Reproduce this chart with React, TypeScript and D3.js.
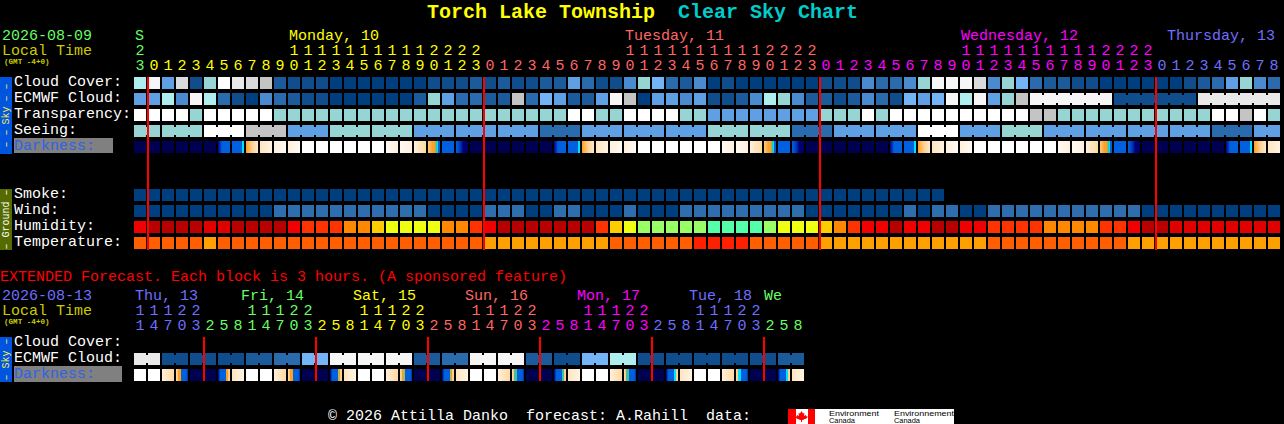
import { useEffect, useRef } from 'react';
import * as d3 from 'd3';

const FONT = '"Liberation Mono", monospace';

const GREEN = '#66ff66';
const YELLOW = '#ffff00';
const SALMON = '#ff6666';
const MAGENTA = '#ff00ff';
const PERI = '#6f6fff';
const OLIVE = '#cccc00';

// sky palette, dark blue = clear, white = overcast
const skyColors = ['#003f7f', '#0f4d8c', '#1b5a9b', '#2a6bad', '#4a8bcf', '#5f9fe3', '#72b4f5', '#97d5d5', '#aeeeee', '#c4c4c4', '#dadada', '#e9e9e9', '#f6f6f6', '#ffffff'];
const windColors = ['#003f7f', '#2e6eae'];
const humidityColors = ['#b80000', '#e00000', '#f00000', '#ff3300', '#ff8800', '#ffcc00', '#eeff11', '#99ff66', '#55ffaa'];
const tempColors = ['#ff5f00', '#ffa000', '#ff2000'];

const hours = [23, 0, 1, 2, 3, 4, 5, 6, 7, 8, 9, 10, 11, 12, 13, 14, 15, 16, 17, 18, 19, 20, 21, 22, 23, 0, 1, 2, 3, 4, 5, 6, 7, 8, 9, 10, 11, 12, 13, 14, 15, 16, 17, 18, 19, 20, 21, 22, 23, 0, 1, 2, 3, 4, 5, 6, 7, 8, 9, 10, 11, 12, 13, 14, 15, 16, 17, 18, 19, 20, 21, 22, 23, 0, 1, 2, 3, 4, 5, 6, 7, 8];
const dayLabels = ['S', 'Monday, 10', 'Tuesday, 11', 'Wednesday, 12', 'Thursday, 13'];
const dayLabelX = [135, 289, 625, 961, 1167];
const dayStarts = [0, 1, 25, 49, 73];
const dayColors = [GREEN, YELLOW, SALMON, MAGENTA, PERI];

const cloudCover = [8, 12, 5, 10, 1, 7, 13, 11, 10, 9, 2, 1, 1, 1, 0, 0, 0, 0, 0, 0, 0, 1, 1, 1, 2, 1, 2, 1, 1, 2, 2, 5, 3, 1, 1, 4, 7, 6, 3, 2, 4, 0, 1, 0, 0, 0, 0, 0, 0, 1, 1, 1, 4, 3, 3, 4, 7, 12, 12, 12, 10, 4, 7, 6, 3, 2, 2, 1, 1, 0, 0, 0, 0, 0, 0, 1, 2, 3, 5, 7, 4, 3];
const ecmwfCloud = [5, 5, 8, 4, 12, 8, 3, 1, 0, 4, 3, 2, 1, 1, 0, 0, 0, 0, 0, 0, 2, 7, 5, 3, 3, 2, 2, 9, 3, 6, 5, 2, 2, 5, 12, 9, 0, 5, 5, 4, 5, 1, 1, 2, 4, 8, 7, 4, 2, 2, 1, 2, 4, 3, 1, 6, 5, 6, 12, 8, 12, 5, 7, 9, 12, 12, 12, 12, 12, 12, 1, 1, 1, 1, 1, 1, 11, 11, 11, 11, 11, 11];
const transparency = [13, 13, 13, 13, 7, 13, 13, 13, 13, 13, 7, 7, 7, 7, 7, 7, 7, 7, 7, 7, 7, 7, 7, 7, 7, 7, 7, 7, 7, 7, 7, 13, 13, 7, 7, 13, 13, 13, 13, 7, 7, 5, 5, 5, 5, 5, 5, 5, 5, 7, 7, 7, 13, 7, 13, 13, 13, 13, 13, 13, 13, 13, 13, 13, 9, 9, 7, 7, 7, 7, 7, 7, 7, 7, 7, 7, 7, 13, 13, 9, 13, 7];
const seeing = [7, 7, 7, 7, 7, 13, 13, 13, 9, 9, 9, 5, 5, 5, 7, 7, 7, 7, 7, 7, 5, 5, 5, 5, 5, 5, 5, 5, 5, 3, 3, 3, 5, 5, 5, 5, 5, 5, 5, 5, 5, 7, 7, 7, 7, 7, 7, 3, 3, 3, 5, 5, 5, 5, 5, 5, 13, 13, 13, 5, 5, 5, 7, 7, 7, 5, 5, 5, 5, 5, 5, 5, 5, 5, 5, 5, 5, 3, 3, 3, 5, 5];
const darkness = [...'NNNNNNDBOPCCWWWWWWccpSbdNNNNNNDBOPCCWWWWWWccpSbdNNNNNNDBOPCCWWWWWWccpSbdNNNNNNDBOP'];

const smoke = [0, 0, 0, 0, 0, 0, 0, 0, 0, 0, 0, 0, 0, 0, 0, 0, 0, 0, 0, 0, 0, 0, 0, 0, 0, 0, 0, 0, 0, 0, 0, 0, 0, 0, 0, 0, 0, 0, 0, 0, 0, 0, 0, 0, 0, 0, 0, 0, 0, 0, 0, 0, 0, 0, 0, 0, 0, 0];
const wind = [0, 0, 0, 0, 0, 0, 0, 0, 0, 0, 1, 1, 1, 1, 1, 1, 1, 1, 1, 1, 1, 0, 0, 0, 0, 1, 1, 1, 0, 0, 1, 1, 0, 0, 0, 1, 0, 0, 0, 1, 1, 1, 1, 1, 1, 1, 1, 1, 0, 0, 0, 0, 0, 0, 0, 1, 0, 1, 1, 0, 0, 1, 1, 1, 1, 1, 1, 1, 1, 1, 1, 1, 0, 0, 0, 0, 0, 0, 0, 0, 0, 0];
const humidity = [2, 0, 0, 0, 0, 1, 1, 0, 0, 0, 0, 2, 3, 3, 3, 4, 4, 5, 6, 6, 6, 6, 4, 4, 3, 2, 0, 0, 0, 0, 0, 0, 0, 3, 5, 6, 7, 7, 7, 7, 7, 8, 8, 8, 8, 7, 6, 6, 6, 5, 4, 3, 2, 2, 0, 2, 2, 0, 0, 2, 2, 3, 3, 3, 3, 4, 4, 4, 4, 3, 3, 2, 0, 0, 1, 1, 1, 1, 1, 1, 1, 1];
const temperature = [0, 0, 0, 0, 0, 1, 0, 0, 0, 0, 0, 0, 0, 0, 0, 0, 0, 0, 0, 0, 0, 0, 0, 0, 0, 1, 1, 1, 1, 1, 1, 1, 1, 1, 0, 0, 0, 0, 0, 0, 2, 2, 2, 2, 0, 0, 0, 0, 0, 1, 1, 1, 1, 1, 1, 1, 1, 1, 1, 1, 1, 0, 0, 0, 0, 0, 0, 0, 0, 0, 0, 1, 1, 1, 1, 1, 1, 1, 1, 1, 1, 1];

// extended forecast, one block = 3 hours
const extHours = [11, 14, 17, 20, 23, 2, 5, 8, 11, 14, 17, 20, 23, 2, 5, 8, 11, 14, 17, 20, 23, 2, 5, 8, 11, 14, 17, 20, 23, 2, 5, 8, 11, 14, 17, 20, 23, 2, 5, 8, 11, 14, 17, 20, 23, 2, 5, 8];
const extDayLabels = ['Thu, 13', 'Fri, 14', 'Sat, 15', 'Sun, 16', 'Mon, 17', 'Tue, 18', 'We'];
const extDayLabelX = [135, 241, 353, 465, 577, 689, 764];
const extDayStarts = [0, 5, 13, 21, 29, 37, 45];
const extDayColors = [PERI, GREEN, YELLOW, SALMON, MAGENTA, PERI, GREEN];
const extEcmwf = [11, 11, 1, 1, 1, 1, 1, 1, 2, 2, 3, 3, 6, 6, 12, 12, 12, 12, 12, 12, 2, 2, 3, 3, 12, 12, 12, 12, 2, 2, 1, 1, 6, 6, 8, 8, 1, 1, 1, 1, 1, 1, 1, 1, 1, 1, 2, 2];
const extDarkness = [...'WWpeNNEPWWpeNNFPWWpfNNFPWWpgNNGPWWpgNNHPWWphNNHP'];

const NAVY = '#000050';
const BLUE = '#0060e0';
const CYAN = '#00e0ff';
const ORANGE = '#ffa020';
const dawnStops = (c: string): [number, string][] => [[0, '#000080'], [0.2, BLUE], [0.68, BLUE], [0.68, c], [0.85, c], [0.85, '#ffc880'], [1, '#ffd8a0']];
const duskStops = (c: string): [number, string][] => [[0, '#ffd8a0'], [0.15, '#ffc880'], [0.15, c], [0.38, c], [0.38, BLUE], [0.85, BLUE], [1, '#0030a0']];

// colour stops across one block of the darkness rows
const darkStops: Record<string, [number, string][]> = {
  N: [[0, NAVY], [1, NAVY]],
  D: [[0, '#000080'], [0.33, BLUE], [1, BLUE]],
  B: [[0, BLUE], [0.83, BLUE], [0.83, CYAN], [1, CYAN]],
  O: [[0, ORANGE], [0.5, '#ffd090'], [1, '#ffe8c8']],
  P: [[0, '#ffe4c0'], [1, '#fff4e4']],
  C: [[0, '#fff0dc'], [1, '#fffaf4']],
  W: [[0, '#ffffff'], [1, '#ffffff']],
  c: [[0, '#fffaf4'], [1, '#fff0dc']],
  p: [[0, '#fff0dc'], [1, '#ffd8a0']],
  S: [[0, '#ffc880'], [0.4, ORANGE], [0.55, ORANGE], [0.7, '#40c0a0'], [0.8, CYAN], [0.85, CYAN], [0.85, BLUE], [1, BLUE]],
  b: [[0, BLUE], [1, BLUE]],
  d: [[0, BLUE], [0.3, '#0040c0'], [0.6, '#000080'], [1, '#000060']],
  E: dawnStops(ORANGE),
  F: dawnStops('#c8b040'),
  G: dawnStops('#40c0a0'),
  H: dawnStops(CYAN),
  e: duskStops(ORANGE),
  f: duskStops('#c8b040'),
  g: duskStops('#40c0a0'),
  h: duskStops(CYAN),
};

const skyRows = ['Cloud Cover:', 'ECMWF Cloud:', 'Transparency:', 'Seeing:', 'Darkness:'];
const groundRows = ['Smoke:', 'Wind:', 'Humidity:', 'Temperature:'];
const extRows = ['Cloud Cover:', 'ECMWF Cloud:', 'Darkness:'];

type Sel = d3.Selection<any, any, any, any>;

function label(g: Sel, x: number, y: number, text: string, fill: string, size = 15) {
  return g
    .append('text')
    .attr('x', x)
    .attr('y', y)
    .attr('fill', fill)
    .attr('font-size', size)
    .attr('font-family', FONT)
    .style('white-space', 'pre')
    .text(text);
}

function blocks(
  g: Sel,
  x: d3.ScaleBand<number>,
  y: number,
  values: number[],
  colors: string[],
  joined?: (i: number) => boolean,
) {
  const h = x.bandwidth();
  g.append('g')
    .selectAll('rect')
    .data(values)
    .join('rect')
    .attr('x', (_, i) => x(i)!)
    .attr('y', y)
    .attr('width', h)
    .attr('height', h)
    .attr('fill', (d) => colors[d]);
  if (!joined) return;
  // short bridge between blocks that belong to one forecast step
  values.slice(0, -1).forEach((d, i) => {
    if (!joined(i)) return;
    g.append('rect')
      .attr('x', x(i)! + h)
      .attr('y', y + 2)
      .attr('width', x.step() - h)
      .attr('height', h - 4)
      .attr('fill', colors[d]);
  });
}

function darkBlocks(g: Sel, x: d3.ScaleBand<number>, y: number, values: string[]) {
  g.append('g')
    .selectAll('rect')
    .data(values)
    .join('rect')
    .attr('x', (_, i) => x(i)!)
    .attr('y', y)
    .attr('width', x.bandwidth())
    .attr('height', x.bandwidth())
    .attr('fill', (d) => `url(#dark-${d})`);
}

function sideBar(g: Sel, y0: number, y1: number, fill: string, color: string, name: string, dash: string, off: number) {
  g.append('rect').attr('x', 0).attr('y', y0).attr('width', 12).attr('height', y1 - y0).attr('fill', fill);
  const mid = (y0 + y1) / 2;
  const put = (yy: number, t: string) =>
    label(g, 0, 0, t, color, 10)
      .attr('text-anchor', 'middle')
      .attr('transform', `translate(9, ${yy}) rotate(-90)`);
  put(mid, name);
  put(mid - off, dash);
  put(mid + off, dash);
}

function timeHeader(
  g: Sel,
  x: d3.ScaleBand<number>,
  values: number[],
  starts: number[],
  colors: string[],
  y: number,
) {
  const colorAt = (i: number) => colors[d3.bisectRight(starts, i) - 1];
  g.append('g')
    .selectAll('text')
    .data(values)
    .join('text')
    .attr('x', (_, i) => x(i)! + x.bandwidth() / 2)
    .attr('y', y)
    .attr('text-anchor', 'middle')
    .attr('font-size', 15)
    .attr('font-family', FONT)
    .attr('fill', (_, i) => colorAt(i))
    .text((d) => d % 10);
  g.append('g')
    .selectAll('text')
    .data(values)
    .join('text')
    .attr('x', (_, i) => x(i)! + x.bandwidth() / 2)
    .attr('y', y - 15)
    .attr('text-anchor', 'middle')
    .attr('font-size', 15)
    .attr('font-family', FONT)
    .attr('fill', (_, i) => colorAt(i))
    .text((d) => (d >= 10 ? Math.floor(d / 10) : ''));
}

export default function App() {
  const svgRef = useRef<SVGSVGElement>(null);

  useEffect(() => {
    if (!svgRef.current) return;
    const svg = d3.select(svgRef.current);
    svg.selectAll('*').remove();

    const defs = svg.append('defs');
    Object.entries(darkStops).forEach(([k, stops]) => {
      const grad = defs.append('linearGradient').attr('id', `dark-${k}`);
      stops.forEach(([o, c]) => grad.append('stop').attr('offset', o).attr('stop-color', c));
    });

    const g = svg.append('g');
    g.append('rect').attr('width', 1284).attr('height', 424).attr('fill', '#000');
    const cells = svg.append('g').attr('shape-rendering', 'crispEdges');

    const x = d3.scaleBand<number>().domain(d3.range(hours.length)).range([134, 1280]).paddingInner(1 / 7);
    const xExt = d3.scaleBand<number>().domain(d3.range(extHours.length)).range([134, 804]).paddingInner(1 / 7);
    const ySky = d3.scaleBand<string>().domain(skyRows).range([77, 153]).paddingInner(0.25);
    const yGround = d3.scaleBand<string>().domain(groundRows).range([189, 249]).paddingInner(0.25);
    const yExt = d3.scaleBand<string>().domain(extRows).range([337, 381]).paddingInner(0.25);

    // title
    label(g, 427, 18, 'Torch Lake Township', YELLOW, 20).attr('font-weight', 'bold');
    label(g, 678, 18, 'Clear Sky Chart', '#00cccc', 20).attr('font-weight', 'bold');

    // main header
    label(g, 2, 40, '2026-08-09', GREEN);
    label(g, 2, 55, 'Local Time', OLIVE);
    label(g, 4, 64, '(GMT -4+0)', OLIVE, 7.6).attr('font-weight', 'bold');
    dayLabels.forEach((d, i) => label(g, dayLabelX[i], 40, d, dayColors[i]));
    timeHeader(g, x, hours, dayStarts, dayColors, 70);

    // sky rows
    blocks(cells, x, ySky('Cloud Cover:')!, cloudCover, skyColors);
    blocks(cells, x, ySky('ECMWF Cloud:')!, ecmwfCloud, skyColors, (i) => i >= 64 && (i - 64) % 6 !== 5);
    blocks(cells, x, ySky('Transparency:')!, transparency, skyColors);
    blocks(cells, x, ySky('Seeing:')!, seeing, skyColors, (i) => i % 3 !== 1);
    darkBlocks(cells, x, ySky('Darkness:')!, darkness);

    // ground rows
    blocks(cells, x, yGround('Smoke:')!, smoke, skyColors);
    blocks(cells, x, yGround('Wind:')!, wind, windColors);
    blocks(cells, x, yGround('Humidity:')!, humidity, humidityColors);
    blocks(cells, x, yGround('Temperature:')!, temperature, tempColors);

    // row names
    g.append('rect').attr('x', 14).attr('y', 138).attr('width', 99).attr('height', 15).attr('fill', '#808080');
    skyRows.forEach((r) =>
      label(g, 14, ySky(r)! + 9, r, r === 'Darkness:' ? '#2f62e6' : '#fff'),
    );
    groundRows.forEach((r) => label(g, 14, yGround(r)! + 9, r, '#fff'));
    sideBar(g, 77, 154, '#0055e0', '#ffee44', 'Sky', '\u2013 \u2013', 23);
    sideBar(g, 189, 250, '#556b00', '#ffffff', 'Ground', '\u2013', 27);

    // midnight lines
    [1, 25, 49, 73].forEach((i) => {
      cells.append('rect').attr('x', x(i)! - 1).attr('y', 77).attr('width', 2).attr('height', 173).attr('fill', '#ff0000');
    });

    // extended forecast
    label(g, 0, 281, 'EXTENDED Forecast. Each block is 3 hours. (A sponsored feature)', '#ff0000');
    label(g, 2, 300, '2026-08-13', PERI);
    label(g, 2, 315, 'Local Time', OLIVE);
    label(g, 4, 324, '(GMT -4+0)', OLIVE, 7.6).attr('font-weight', 'bold');
    extDayLabels.forEach((d, i) => label(g, extDayLabelX[i], 300, d, extDayColors[i]));
    timeHeader(g, xExt, extHours, extDayStarts, extDayColors, 330);

    blocks(cells, xExt, yExt('ECMWF Cloud:')!, extEcmwf, skyColors, (i) => i % 2 === 0);
    darkBlocks(cells, xExt, yExt('Darkness:')!, extDarkness);

    g.append('rect').attr('x', 14).attr('y', 366).attr('width', 108).attr('height', 16).attr('fill', '#808080');
    extRows.forEach((r) =>
      label(g, 14, yExt(r)! + 9, r, r === 'Darkness:' ? '#2f62e6' : '#fff'),
    );
    sideBar(g, 337, 382, '#0055e0', '#ffee44', 'Sky', '\u2013', 18);
    [5, 13, 21, 29, 37, 45].forEach((i) => {
      cells.append('rect').attr('x', xExt(i)! - 1).attr('y', 337).attr('width', 2).attr('height', 44).attr('fill', '#ff0000');
    });

    // footer with the Environment Canada strip
    label(g, 328, 420, '\u00a9 2026 Attilla Danko  forecast: A.Rahill  data:', '#fff');
    g.append('rect').attr('x', 788).attr('y', 409).attr('width', 166).attr('height', 15).attr('fill', '#fff');
    g.append('rect').attr('x', 788).attr('y', 409).attr('width', 8).attr('height', 15).attr('fill', '#f00');
    g.append('rect').attr('x', 808).attr('y', 409).attr('width', 7).attr('height', 15).attr('fill', '#f00');
    g.append('path')
      .attr('d', 'M801.5 411 l1.5 2.5 1.5-.5 -.5 3 2-1 .5 1.5 1.5 0 -1.5 2 -3 1 0 .5 -1.5 0 0 2 -1 0 0-2 -1.5 0 0-.5 -3-1 -1.5-2 1.5 0 .5-1.5 2 1 -.5-3 1.5.5z')
      .attr('fill', '#f00');
    [
      [829, 416, 'Environment', 50],
      [829, 423, 'Canada', 26],
      [894, 416, 'Environnement', 60],
      [894, 423, 'Canada', 26],
    ].forEach(([tx, ty, t, w]) => {
      g.append('text')
        .attr('x', tx)
        .attr('y', ty)
        .attr('font-family', '"Liberation Sans", sans-serif')
        .attr('font-size', 8)
        .attr('fill', '#000')
        .attr('textLength', w)
        .attr('lengthAdjust', 'spacingAndGlyphs')
        .text(t as string);
    });
  }, []);

  return (
    <svg
      ref={svgRef}
      width={1284}
      height={424}
      style={{ position: 'absolute', left: 0, top: 0, display: 'block' }}
    />
  );
}
